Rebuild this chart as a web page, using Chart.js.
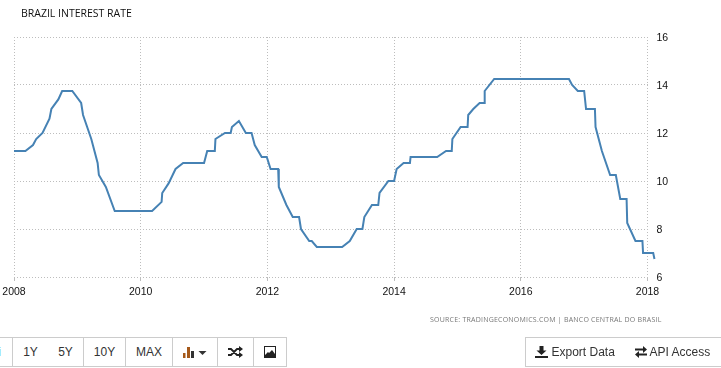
<!DOCTYPE html>
<html>
<head>
<meta charset="utf-8">
<script src="https://cdn.jsdelivr.net/npm/chart.js@4"></script>
<style>
  html, body { margin: 0; padding: 0; background: #fff; overflow: hidden; }
  body { width: 721px; height: 368px; position: relative; font-family: "Liberation Sans", sans-serif; }
  #wrap { position: absolute; left: 0; top: 0; width: 721px; height: 368px; }
  #title { position: absolute; left: 21px; top: 6px; font: 10.5px "Open Sans", sans-serif; color: #111; white-space: nowrap; }
  #source { position: absolute; left: 430px; top: 315px; font: 7px "Open Sans", sans-serif; letter-spacing: 0.22px; color: #777; white-space: nowrap; }
  .btn { position: absolute; top: 337px; height: 28px; box-sizing: content-box; border: 1px solid #ccc; border-left-width: 0; background: #fff;
         font-size: 12px; color: #333; text-align: center; line-height: 28px; white-space: nowrap; }
  .btn svg { vertical-align: -2px; }
  .first { border-left-width: 1px; }
</style>
</head>
<body>
<div id="wrap"><canvas id="rateChart" width="721" height="368"></canvas></div>
<div id="title">BRAZIL INTEREST RATE</div>
<div id="source">SOURCE: TRADINGECONOMICS.COM | BANCO CENTRAL DO BRASIL</div>

<div class="btn" style="left:-40px;width:41px;padding-right:11px;text-align:right;color:#3a9ad9">i</div>
<div class="btn first" style="left:12px;width:35px">1Y</div>
<div class="btn" style="left:48px;width:35px">5Y</div>
<div class="btn" style="left:84px;width:41px">10Y</div>
<div class="btn" style="left:126px;width:46px">MAX</div>
<div class="btn" style="left:173px;width:44px">
  <svg width="24" height="12" viewBox="0 0 24 12"><path fill="#a5591a" d="M0 7h2.500v5H0zM4 1h3v11H4z"/><path fill="#333" d="M8 5h3v7H8z"/><path fill="#333" d="M15.500 5h8l-4 4z"/></svg>
</div>
<div class="btn" style="left:218px;width:35px">
  <svg width="15" height="12" viewBox="0 0 15 12"><path fill="none" stroke="#222" stroke-width="1.800" d="M0 3h3l6 6h3M0 9h3l6-6h3"/><path fill="#222" d="M11 0l4 3-4 3zM11 6l4 3-4 3z"/></svg>
</div>
<div class="btn" style="left:254px;width:32px">
  <svg width="12" height="12" viewBox="0 0 12 12"><path fill="#222" d="M0 0h12v12H0z"/><path fill="#fff" d="M1 1h10v7L8 4 5 7 4 6 1 9z"/></svg>
</div>
<div class="btn first" style="left:525px;width:98px">
  <svg width="13" height="12" viewBox="0 0 13 12"><path fill="#222" d="M4.500 0h4v4.500h3L6.500 9l-5-4.500h3zM0 10h13v2H0z"/></svg> Export Data
</div>
<div class="btn" style="left:624px;width:97px;border-right-width:0">
  <svg width="12" height="12" viewBox="0 0 12 12"><path fill="#222" d="M0 2.500h8V0l4 3.500L8 7V4.500H0zM12 7.500H4V5L0 8.500 4 12V9.500h8z"/></svg> API Access
</div>

<script>
// x = decimal year
var dates = [
  2008.00, 2008.18, 2008.30, 2008.35, 2008.45, 2008.56, 2008.59, 2008.70, 2008.76, 2008.92,
  2009.06, 2009.09, 2009.22, 2009.32, 2009.34, 2009.45, 2009.59, 2010.18, 2010.33, 2010.34,
  2010.44, 2010.55, 2010.67, 2011.00, 2011.05, 2011.17, 2011.18, 2011.33, 2011.42, 2011.44,
  2011.55, 2011.66, 2011.75, 2011.80, 2011.91, 2011.99, 2012.05, 2012.17, 2012.18, 2012.30,
  2012.40, 2012.50, 2012.53, 2012.66, 2012.70, 2012.78, 2013.18, 2013.30, 2013.41, 2013.50,
  2013.53, 2013.65, 2013.75, 2013.77, 2013.91, 2014.00, 2014.04, 2014.15, 2014.25, 2014.26,
  2014.68, 2014.82, 2014.91, 2014.92, 2015.05, 2015.16, 2015.17, 2015.25, 2015.35, 2015.42,
  2015.43, 2015.58, 2016.76, 2016.81, 2016.90, 2017.00, 2017.03, 2017.17, 2017.18, 2017.28,
  2017.41, 2017.50, 2017.57, 2017.67, 2017.68, 2017.81, 2017.92, 2017.93, 2018.09, 2018.11
];
var rates = [
  11.25, 11.25, 11.5, 11.75, 12, 12.6, 13, 13.4, 13.75, 13.75,
  13.25, 12.75, 11.75, 10.75, 10.25, 9.75, 8.75, 8.75, 9.13, 9.5,
  9.9, 10.5, 10.75, 10.75, 11.25, 11.25, 11.75, 12, 12, 12.25,
  12.5, 12, 12, 11.5, 11, 11, 10.5, 10.5, 9.75, 9,
  8.5, 8.5, 8, 7.5, 7.5, 7.25, 7.25, 7.5, 8, 8,
  8.5, 9, 9, 9.5, 10, 10, 10.5, 10.75, 10.75, 11,
  11, 11.25, 11.25, 11.75, 12.25, 12.25, 12.75, 13, 13.25, 13.25,
  13.75, 14.25, 14.25, 14, 13.75, 13.75, 13, 13, 12.25, 11.25,
  10.25, 10.25, 9.25, 9.25, 8.25, 7.5, 7.5, 7, 7, 6.75
];

var points = [];
for (var i in dates) {
  points.push({ x: dates[i], y: rates[i] });
}

var gridColor = '#bdbdbd';
var tickFont = { family: 'Liberation Sans', size: 10.5 };

var ctx = document.getElementById('rateChart');
var rateChart = new Chart(ctx, {
  type: 'line',
  data: {
    datasets: [{
      label: 'Brazil Interest Rate',
      data: points,
      borderColor: '#4682b4',
      borderWidth: 2,
      pointRadius: 0,
      tension: 0,
      clip: false
    }]
  },
  options: {
    responsive: false,
    animation: false,
    layout: { padding: { left: 14, top: 37, right: 0, bottom: 0 } },
    plugins: { legend: { display: false }, tooltip: { enabled: false } },
    scales: {
      x: {
        type: 'linear',
        // axis stops at 2018 but the line runs a bit past it, options.max would drop those points
        afterDataLimits: function(scale) { scale.min = 2008; scale.max = 2018; },
        afterFit: function(scale) {
          scale.height = 91;
          scale.paddingLeft = 0;
          scale.paddingRight = 0;
        },
        border: { display: false, dash: [1, 2] },
        grid: { color: gridColor, tickLength: 4, tickColor: gridColor },
        ticks: {
          stepSize: 2,
          color: '#111',
          font: tickFont,
          padding: 5,
          maxRotation: 0,
          callback: function(value) { return String(value); }
        }
      },
      y: {
        position: 'right',
        min: 6,
        max: 16,
        afterFit: function(scale) { scale.width = 73.5; },
        border: { display: false, dash: [1, 2] },
        grid: { color: gridColor, drawTicks: false },
        ticks: { stepSize: 2, color: '#111', font: tickFont, padding: 9, labelOffset: 1.5 }
      }
    }
  }
});
</script>
</body>
</html>
